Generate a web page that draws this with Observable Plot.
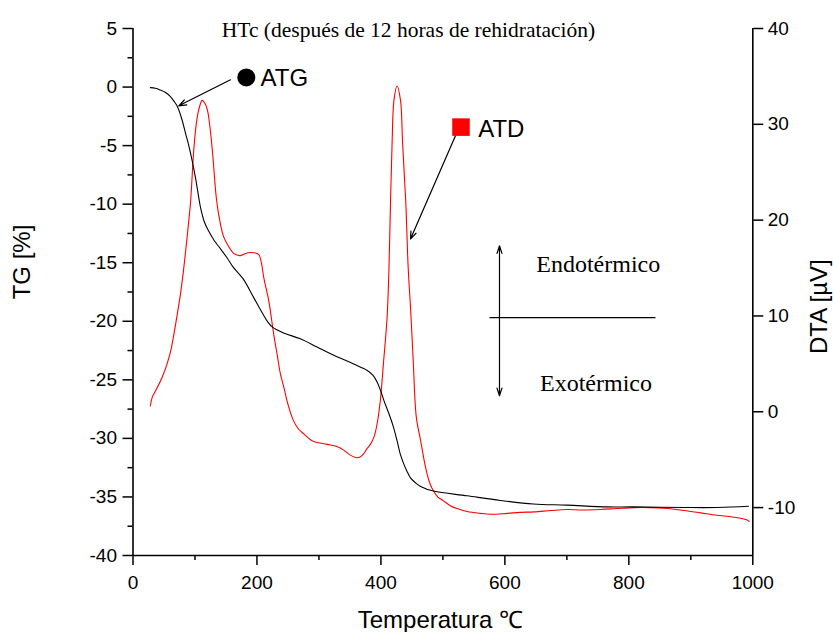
<!DOCTYPE html>
<html>
<head>
<meta charset="utf-8">
<script src="https://cdn.jsdelivr.net/npm/d3@7"></script>
<script src="https://cdn.jsdelivr.net/npm/@observablehq/plot@0.6"></script>
<style>
  html, body { margin: 0; padding: 0; background: #fff; }
  #chart { width: 833px; height: 632px; }
</style>
</head>
<body>
<div id="chart"></div>
<script>
// ---------- data ----------
const tgTemperature = [28,36,44,52,60,66,71,78,85,90,95.5,101,106,109,115,122,131,141,152,162,178,195,211,218,225,243,270,297,324,356,378,387,394,400,405,413,420,426,431,437,442,448,456,464,485,539,593,646,700,765,808,888,942,993];
const tgValues = [-0.05,-0.1,-0.25,-0.45,-0.8,-1.2,-1.6,-2.6,-4.0,-5.0,-6.3,-7.8,-9.4,-10.3,-11.5,-12.3,-13.1,-13.8,-14.6,-15.4,-16.4,-18.0,-19.5,-20.1,-20.5,-21.0,-21.5,-22.2,-22.9,-23.65,-24.2,-24.6,-25.2,-26.0,-26.8,-27.9,-29.0,-30.2,-31.3,-32.2,-32.8,-33.4,-33.8,-34.1,-34.5,-34.9,-35.3,-35.6,-35.7,-35.85,-35.85,-35.9,-35.9,-35.8];

const dtaTemperature = [28,31,39,47,55,61,66,71,76.6,81,85,89,93,98,102,106,111.6,116,120,124,128,135,141,146,152,163,173,185,195,203,207,211,219,227,233,238,244,249,259,267,275.6,284,291.7,313,328,340,350,361.7,367,372,378,383,389,394,399,404,410,413,415.5,418,421,426,431.6,435,440,444,448,452,457,464,472,478,485,492,501,512,523,539,560,577,604,625,647,675,700,725,754,780,808,835,862,889,916,942,969,991,994];
const dtaValues = [0.6,1.5,2.5,3.6,5.0,6.4,8.1,10.0,12.3,14.5,16.8,19.3,22.0,27.3,30.0,31.5,32.5,32.2,31.5,29.8,27.3,22.0,19.6,18.3,17.5,16.5,16.3,16.6,16.6,16.4,15.6,14.0,11.6,8.1,5.8,3.9,2.4,1.0,-0.95,-1.8,-2.3,-2.8,-3.1,-3.4,-3.6,-4.0,-4.5,-4.8,-4.7,-4.4,-3.8,-3.4,-2.6,-1.2,1.15,5,9.9,15,22,28,32.5,34.0,32.5,28,22,15,10.6,5.5,-0.5,-3.0,-5.8,-7.3,-8.3,-8.9,-9.3,-9.8,-10.1,-10.4,-10.6,-10.7,-10.6,-10.5,-10.45,-10.3,-10.2,-10.25,-10.2,-10.1,-10.0,-10.0,-10.1,-10.3,-10.55,-10.8,-11.0,-11.3,-11.45];

const temperatureTicks = [0,200,400,600,800,1000];
const temperatureMinorTicks = [100,300,500,700,900];
const tgTicks = [-40,-35,-30,-25,-20,-15,-10,-5,0,5];
const tgMinorTicks = [-37.5,-32.5,-27.5,-22.5,-17.5,-12.5,-7.5,-2.5,2.5];
const dtaTicks = [-10,0,10,20,30,40];

const tgDomain = [-40, 5];
const dtaDomain = [-15, 40];

// annotation anchors (data units: temperature, TG %)
const atgLabel = [{T: 205.7, TG: 0.11, text: "ATG"}];
const atgMarker = [{T: 182.8, TG: 0.82}];
const atgArrow = [{T1: 157.3, TG1: 0.62, T2: 73.9, TG2: -1.60}];
const atdLabel = [{T: 557, TG: -4.30, text: "ATD"}];
const atdMarker = [{T: 529.2, TG: -3.42}];
const atdArrow = [{T1: 520.3, TG1: -4.16, T2: 447.7, TG2: -12.98}];
const thermalArrows = [
  {T1: 591.3, TG1: -19.68, T2: 591.3, TG2: -13.55},
  {T1: 591.3, TG1: -19.68, T2: 591.3, TG2: -26.36}
];
const thermalBaseline = [{T1: 575.2, T2: 843.0, TG: -19.68}];
const thermalLabels = [
  {T: 750.6, TG: -15.83, text: "Endotérmico"},
  {T: 747, TG: -25.94, text: "Exotérmico"}
];
const titleText = [{T: 444.4, TG: 4.24, text: "HTc (después de 12 horas de rehidratación)"}];

// ---------- helpers ----------
const k = (tgDomain[1] - tgDomain[0]) / (dtaDomain[1] - dtaDomain[0]);
const dtaToTG = d => tgDomain[0] + (d - dtaDomain[0]) * k;
const tgToDta = t => (t - tgDomain[0]) / k + dtaDomain[0];

const tgData = tgTemperature.map((t, i) => ({T: t, v: tgValues[i]}));
const dtaData = dtaTemperature.map((t, i) => ({T: t, v: dtaToTG(dtaValues[i])}));

const sans = "'Liberation Sans', Arial, Helvetica, sans-serif";
const serif = "'Liberation Serif', 'Times New Roman', serif";

const chart = Plot.plot({
  width: 833,
  height: 632,
  marginLeft: 132.5,
  marginRight: 80.7,
  marginTop: 28,
  marginBottom: 77,
  x: {domain: [0, 1000]},
  y: {domain: tgDomain},
  style: {fontFamily: sans, fontSize: "19px", color: "black", background: "white"},
  marks: [
    // axes
    Plot.axisX(temperatureTicks, {tickSize: 10, tickPadding: 10, strokeWidth: 1.5, fontSize: 19, label: null, tickFormat: d => String(d)}),
    Plot.axisX(temperatureMinorTicks, {tickSize: 5, strokeWidth: 1.5, text: null, label: null}),
    Plot.axisY(tgTicks, {anchor: "left", tickSize: 10, tickPadding: 6, strokeWidth: 1.5, fontSize: 19, label: null, tickFormat: d => String(d)}),
    Plot.axisY(tgMinorTicks, {anchor: "left", tickSize: 5, strokeWidth: 1.5, text: null, label: null}),
    Plot.axisY(dtaTicks.map(dtaToTG), {anchor: "right", tickSize: 10, tickPadding: 5, strokeWidth: 1.5, fontSize: 19, label: null, tickFormat: d => String(Math.round(tgToDta(d)))}),
    Plot.ruleX([0], {strokeWidth: 1.6}),
    Plot.ruleX([1000], {strokeWidth: 1.6}),
    Plot.ruleY([tgDomain[0]], {strokeWidth: 1.6}),

    // curves
    Plot.line(dtaData, {x: "T", y: "v", stroke: "#ff0000", strokeWidth: 1.1, curve: "catmull-rom"}),
    Plot.line(tgData, {x: "T", y: "v", stroke: "#000000", strokeWidth: 1.1, curve: "catmull-rom"}),

    // annotations
    Plot.text(titleText, {x: "T", y: "TG", text: "text", fontFamily: serif, fontSize: 21.5, lineAnchor: "bottom", fill: "black"}),
    Plot.arrow(atgArrow, {x1: "T1", y1: "TG1", x2: "T2", y2: "TG2", stroke: "black", strokeWidth: 1.2, headLength: 10, headAngle: 40}),
    Plot.dot(atgMarker, {x: "T", y: "TG", r: 9, fill: "black", stroke: "none"}),
    Plot.text(atgLabel, {x: "T", y: "TG", text: "text", textAnchor: "start", lineAnchor: "bottom", fontSize: 24, fontFamily: sans, fill: "black"}),
    Plot.arrow(atdArrow, {x1: "T1", y1: "TG1", x2: "T2", y2: "TG2", stroke: "black", strokeWidth: 1.2, headLength: 10, headAngle: 40}),
    Plot.dot(atdMarker, {x: "T", y: "TG", r: 9.9, symbol: "square", fill: "#ff0000", stroke: "none"}),
    Plot.text(atdLabel, {x: "T", y: "TG", text: "text", textAnchor: "start", lineAnchor: "bottom", fontSize: 24, fontFamily: sans, fill: "black"}),
    Plot.arrow(thermalArrows, {x1: "T1", y1: "TG1", x2: "T2", y2: "TG2", stroke: "black", strokeWidth: 1.2, headLength: 10, headAngle: 36}),
    Plot.link(thermalBaseline, {x1: "T1", x2: "T2", y1: "TG", y2: "TG", stroke: "black", strokeWidth: 1.2}),
    Plot.text(thermalLabels, {x: "T", y: "TG", text: "text", lineAnchor: "bottom", fontSize: 24, fontFamily: serif, fill: "black"}),

    // axis titles
    Plot.text(["TG [%]"], {x: 0, y: -14.94, dx: -103, rotate: -90, textAnchor: "middle", lineAnchor: "bottom", fontSize: 24, fontFamily: sans, fill: "black"}),
    Plot.text(["DTA [µV]"], {x: 1000, y: dtaToTG(10.97), dx: 74, rotate: -90, textAnchor: "middle", lineAnchor: "bottom", fontSize: 24, fontFamily: sans, fill: "black"}),
    Plot.text(["Temperatura ℃"], {x: 496, y: tgDomain[0], dy: 72, textAnchor: "middle", lineAnchor: "bottom", fontSize: 24, fontFamily: sans, fill: "black"})
  ]
});

document.getElementById("chart").appendChild(chart);
</script>
</body>
</html>
